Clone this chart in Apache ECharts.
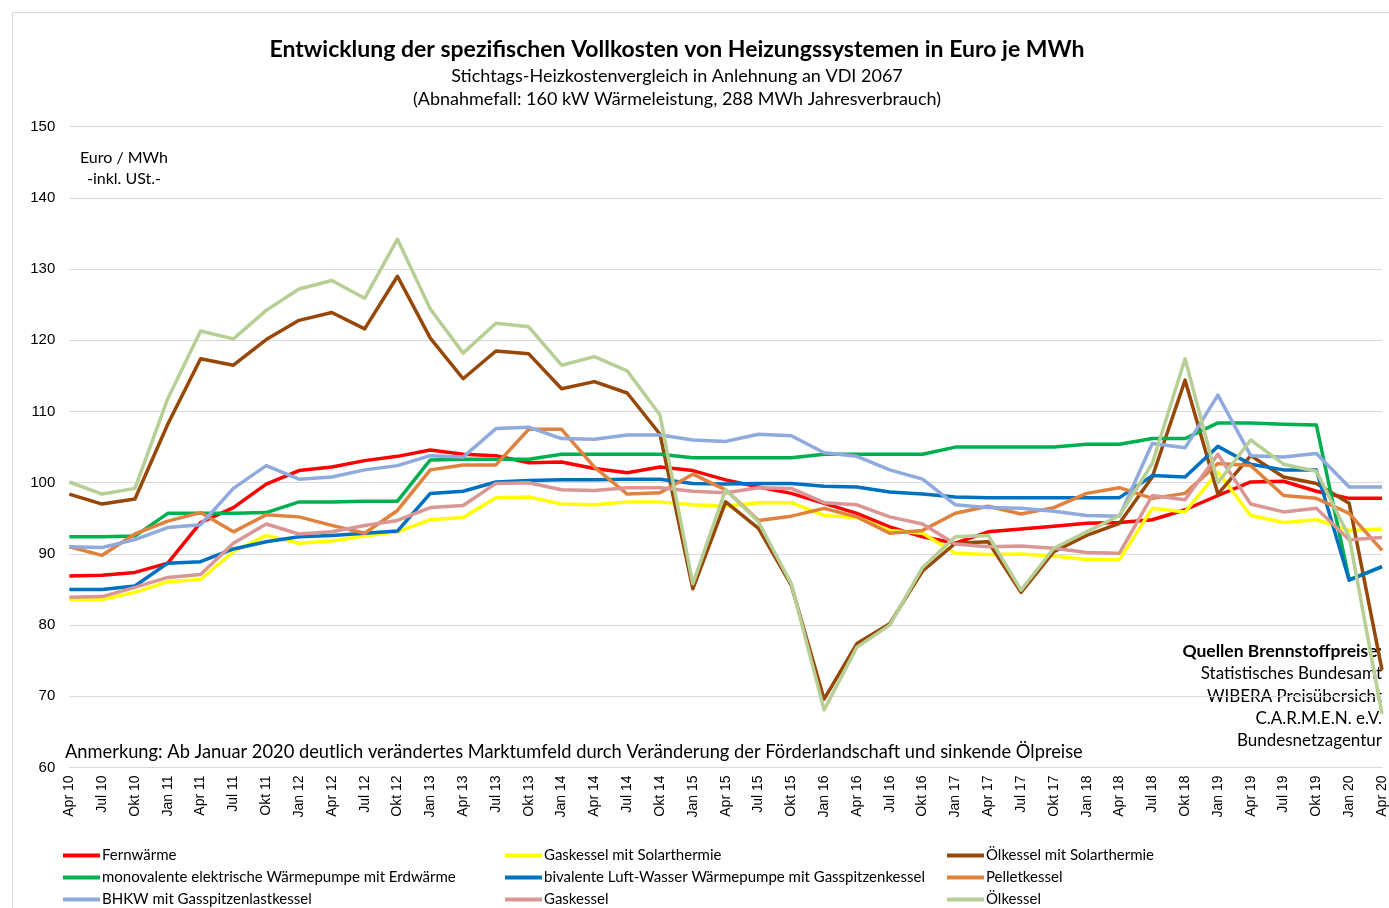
<!DOCTYPE html>
<html>
<head>
<meta charset="utf-8">
<script src="https://cdn.jsdelivr.net/npm/echarts@6/dist/echarts.min.js"></script>
<style>
html,body{margin:0;padding:0;background:#fff;}
#chart{width:1389px;height:908px;}
</style>
</head>
<body>
<div id="chart"></div>
<script>
var categories = ["Apr 10","Jul 10","Okt 10","Jan 11","Apr 11","Jul 11","Okt 11","Jan 12","Apr 12","Jul 12","Okt 12","Jan 13","Apr 13","Jul 13","Okt 13","Jan 14","Apr 14","Jul 14","Okt 14","Jan 15","Apr 15","Jul 15","Okt 15","Jan 16","Apr 16","Jul 16","Okt 16","Jan 17","Apr 17","Jul 17","Okt 17","Jan 18","Apr 18","Jul 18","Okt 18","Jan 19","Apr 19","Jul 19","Okt 19","Jan 20","Apr 20"];

var fernwaerme = [86.9,87.0,87.4,88.7,94.4,96.5,99.8,101.7,102.2,103.1,103.7,104.6,104.0,103.8,102.8,102.9,102.0,101.4,102.2,101.7,100.4,99.4,98.5,97.1,95.7,93.8,92.4,91.5,93.1,93.5,93.9,94.3,94.4,94.8,96.2,98.2,100.1,100.2,98.8,97.8,97.8];
var gasSolar = [83.6,83.6,84.6,86.1,86.4,90.3,92.6,91.5,91.8,92.5,93.1,94.8,95.1,97.9,98.0,97.0,96.9,97.3,97.3,96.9,96.7,97.2,97.2,95.4,95.1,93.3,92.9,90.1,89.9,90.0,89.7,89.2,89.2,96.4,95.9,101.5,95.4,94.4,94.8,93.3,93.5];
var oelSolar = [98.4,97.0,97.7,108.2,117.4,116.5,120.1,122.8,123.9,121.6,129.0,120.3,114.6,118.5,118.1,113.2,114.2,112.6,106.8,85.1,97.3,93.6,85.6,69.6,77.4,80.2,87.6,91.5,91.7,84.6,90.3,92.6,94.3,100.8,114.4,98.4,103.8,100.8,99.9,97.1,73.7];
var waermepumpe = [92.4,92.4,92.5,95.7,95.7,95.7,95.8,97.3,97.3,97.4,97.4,103.2,103.3,103.3,103.3,104.0,104.0,104.0,104.0,103.5,103.5,103.5,103.5,104.0,104.0,104.0,104.0,105.0,105.0,105.0,105.0,105.4,105.4,106.2,106.2,108.4,108.4,108.2,108.1,86.4,88.2];
var bivalent = [85.0,85.0,85.5,88.7,88.9,90.7,91.7,92.4,92.6,92.9,93.2,98.5,98.8,100.1,100.3,100.4,100.4,100.5,100.5,99.9,99.8,99.9,99.9,99.5,99.4,98.7,98.4,98.0,97.9,97.9,97.9,97.9,97.9,101.0,100.8,105.1,102.6,101.8,101.8,86.3,88.2];
var pellet = [91.0,89.8,92.8,94.6,95.8,93.1,95.5,95.2,94.0,92.9,96.1,101.8,102.5,102.5,107.5,107.5,102.2,98.4,98.6,101.2,99.0,94.7,95.3,96.4,95.2,92.9,93.3,95.7,96.7,95.6,96.5,98.5,99.3,97.8,98.5,102.7,102.4,98.2,97.8,95.7,90.5];
var bhkw = [91.0,90.9,92.0,93.7,94.1,99.2,102.4,100.5,100.8,101.8,102.4,103.8,103.6,107.6,107.8,106.2,106.1,106.7,106.7,106.0,105.8,106.8,106.6,104.2,103.7,101.8,100.5,96.9,96.5,96.4,96.0,95.4,95.3,105.5,104.9,112.3,103.8,103.6,104.1,99.4,99.4];
var gaskessel = [83.9,84.0,85.3,86.7,87.1,91.5,94.2,92.8,93.1,94.0,94.7,96.5,96.8,99.9,100.0,99.0,98.9,99.3,99.3,98.8,98.6,99.3,99.2,97.2,96.9,95.2,94.2,91.4,91.0,91.1,90.8,90.2,90.1,98.2,97.6,104.0,97.0,95.9,96.4,92.0,92.3];
var oelkessel = [100.1,98.4,99.2,111.8,121.3,120.2,124.2,127.2,128.4,125.9,134.2,124.4,118.2,122.4,121.9,116.5,117.7,115.7,109.5,85.8,99.0,94.5,85.8,68.1,76.9,80.0,88.1,92.4,92.6,84.9,90.8,93.1,95.4,102.7,117.4,100.0,106.0,102.6,101.6,92.4,67.5];

var seriesNames = ["Fernwärme","Gaskessel mit Solarthermie","Ölkessel mit Solarthermie","monovalente elektrische Wärmepumpe mit Erdwärme","bivalente Luft-Wasser Wärmepumpe mit Gasspitzenkessel","Pelletkessel","BHKW mit Gasspitzenlastkessel","Gaskessel","Ölkessel"];
var seriesData = [fernwaerme, gasSolar, oelSolar, waermepumpe, bivalent, pellet, bhkw, gaskessel, oelkessel];
var seriesColors = ["#FF0000","#FFFF00","#974706","#00B050","#0070C0","#E0823D","#8FAADC","#D99694","#B7CE95"];

var yTicks = {min: 60, max: 150, interval: 10};
var titleText = "Entwicklung der spezifischen Vollkosten von Heizungssystemen in Euro je MWh";
var subtitle1 = "Stichtags-Heizkostenvergleich in Anlehnung an VDI 2067";
var subtitle2 = "(Abnahmefall: 160 kW Wärmeleistung, 288 MWh Jahresverbrauch)";
var unit1 = "Euro / MWh";
var unit2 = "-inkl. USt.-";
var note = "Anmerkung: Ab Januar 2020 deutlich verändertes Marktumfeld durch Veränderung der Förderlandschaft und sinkende Ölpreise";
var sourcesHead = "Quellen Brennstoffpreise:";
var sources = ["Statistisches Bundesamt","WIBERA Preisübersicht","C.A.R.M.E.N. e.V.","Bundesnetzagentur"];

var calFont = "Lato, 'Open Sans', sans-serif";
var arialFont = "'Liberation Sans', Arial, sans-serif";

var chart = echarts.init(document.getElementById('chart'), null, {renderer: 'canvas'});

var series = seriesNames.map(function(n, i){
  return {
    name: n, type: 'line', data: seriesData[i], symbol: 'none', smooth: false,
    lineStyle: {color: seriesColors[i], width: 3.5, join: 'round'},
    itemStyle: {color: seriesColors[i]},
    z: 2 + i, animation: false
  };
});

var legendPos = [
  [63, 848],[505, 848],[947, 848],
  [63, 870],[505, 870],[947, 870],
  [63, 892],[505, 892],[947, 892]
];
var legends = seriesNames.map(function(n, i){
  return {
    data: [{name: n, icon: 'rect'}],
    left: legendPos[i][0], top: legendPos[i][1],
    itemWidth: 37, itemHeight: 4, padding: 0,
    textStyle: {fontFamily: calFont, fontSize: 15, color: '#000', padding: [0,0,0,-3]},
    selectedMode: false
  };
});

var gtexts = [
  {type:'text', style:{x:677, y:50, text:titleText, textAlign:'center', textVerticalAlign:'middle', font:'bold 23px ' + calFont, fill:'#000'}},
  {type:'text', style:{x:677, y:76, text:subtitle1, textAlign:'center', textVerticalAlign:'middle', font:'18px ' + calFont, fill:'#000'}},
  {type:'text', style:{x:677, y:99, text:subtitle2, textAlign:'center', textVerticalAlign:'middle', font:'18px ' + calFont, fill:'#000'}},
  {type:'text', style:{x:124, y:158, text:unit1, textAlign:'center', textVerticalAlign:'middle', font:'16px ' + calFont, fill:'#000'}},
  {type:'text', style:{x:124, y:179, text:unit2, textAlign:'center', textVerticalAlign:'middle', font:'16px ' + calFont, fill:'#000'}},
  {type:'text', style:{x:65, y:752, text:note, textAlign:'left', textVerticalAlign:'middle', font:'18.3px ' + calFont, fill:'#000'}},
  {type:'text', style:{x:1382, y:651, text:sourcesHead, textAlign:'right', textVerticalAlign:'middle', font:'bold 17.5px ' + calFont, fill:'#000'}}
];
sources.forEach(function(s, i){
  gtexts.push({type:'text', style:{x:1382, y:674 + i*22.2, text:s, textAlign:'right', textVerticalAlign:'middle', font:'17px ' + calFont, fill:'#000'}});
});
gtexts.push({type:'line', shape:{x1:12.5, y1:12.5, x2:1389, y2:12.5}, style:{stroke:'#D9D9D9', lineWidth:1}});
gtexts.push({type:'line', shape:{x1:12.5, y1:12.5, x2:12.5, y2:908}, style:{stroke:'#D9D9D9', lineWidth:1}});

chart.setOption({
  animation: false,
  backgroundColor: '#fff',
  grid: {left: 69.3, right: 6.5, top: 126.7, bottom: 140.5, containLabel: false},
  xAxis: {
    type: 'category', data: categories, boundaryGap: false,
    axisLine: {show: true, lineStyle: {color: '#D9D9D9', width: 1}},
    axisTick: {show: false},
    axisLabel: {interval: 0, rotate: 90, margin: 8, fontSize: 14, color: '#000', fontFamily: arialFont},
    splitLine: {show: false}
  },
  yAxis: {
    type: 'value', min: yTicks.min, max: yTicks.max, interval: yTicks.interval,
    axisLine: {show: false}, axisTick: {show: false},
    axisLabel: {fontSize: 15, color: '#000', margin: 14, fontFamily: arialFont},
    splitLine: {show: true, lineStyle: {color: '#D9D9D9', width: 1}}
  },
  legend: legends,
  series: series,
  graphic: gtexts
});
</script>
</body>
</html>
